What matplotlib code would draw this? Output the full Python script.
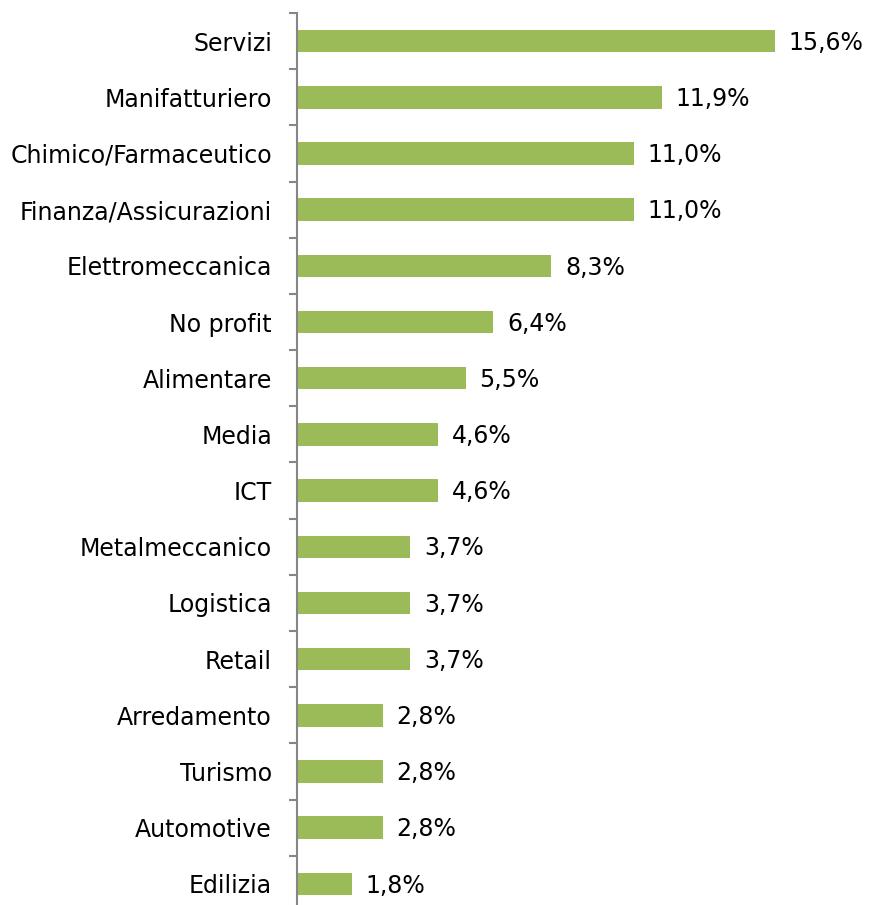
import matplotlib
matplotlib.use('Agg')
import matplotlib.pyplot as plt
import numpy as np

# settori e quote percentuali
settori = ['Servizi', 'Manifatturiero', 'Chimico/Farmaceutico', 'Finanza/Assicurazioni',
           'Elettromeccanica', 'No profit', 'Alimentare', 'Media', 'ICT',
           'Metalmeccanico', 'Logistica', 'Retail', 'Arredamento', 'Turismo',
           'Automotive', 'Edilizia']
quote = [15.6, 11.9, 11.0, 11.0, 8.3, 6.4, 5.5, 4.6, 4.6, 3.7, 3.7, 3.7, 2.8, 2.8, 2.8, 1.8]

verde = '#9BBB59'
grigio = '#868686'
fs = 17

fig = plt.figure(figsize=(8.72, 9.05), dpi=100)
ax = fig.add_axes([297 / 872, -7 / 905, 551.5 / 872, 899 / 905])

y = np.arange(len(settori))
ax.barh(y, quote, height=0.4, color=verde)
ax.set_ylim(len(settori) - 0.5, -0.5)
ax.set_xlim(0, 18)

for yi, v in zip(y, quote):
    ax.text(v + 0.45, yi + 0.03, f'{v:.1f}%'.replace('.', ','), va='center', ha='left',
            fontsize=fs, color='black')

ax.set_yticks(y)
ax.set_yticklabels(settori, fontsize=fs)
ax.tick_params(axis='y', which='major', length=0, pad=18)
ax.set_yticks(np.arange(len(settori) + 1) - 0.5, minor=True)
ax.tick_params(axis='y', which='minor', length=6, color=grigio, width=1.5, direction='out')
ax.set_xticks([])

for s in ['top', 'right', 'bottom']:
    ax.spines[s].set_visible(False)
ax.spines['left'].set_color(grigio)
ax.spines['left'].set_linewidth(1.5)

fig.savefig('out.png', dpi=100)
